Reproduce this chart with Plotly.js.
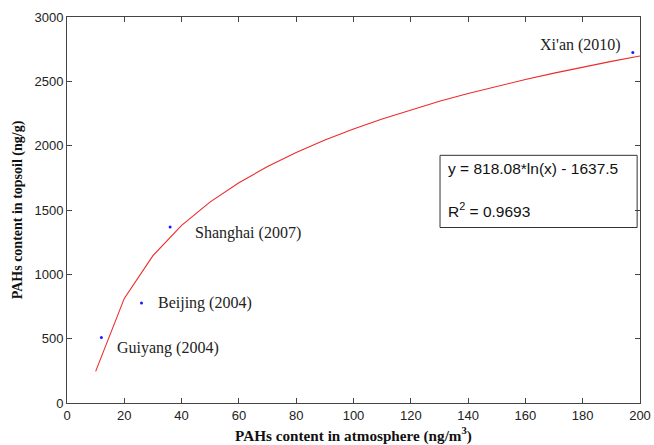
<!DOCTYPE html>
<html>
<head>
<meta charset="utf-8">
<script src="https://cdn.plot.ly/plotly-3.0.1.min.js"></script>
<style>html,body{margin:0;padding:0;background:#fff;}</style>
</head>
<body>
<div id="chart" style="width:654px;height:445px;"></div>
<script>
// Observed city data
const cities = ["Guiyang (2004)", "Beijing (2004)", "Shanghai (2007)", "Xi'an (2010)"];
const atmX = [12, 26, 36, 197.5];
const soilY = [510, 778, 1368, 2725];

// Fitted curve
const fitX = [10, 20, 30, 40, 50, 60, 70, 80, 90, 100, 110, 120, 130, 140, 150, 160, 170, 180, 190, 200];
const fitY = [246, 813, 1145, 1380, 1563, 1712, 1838, 1947, 2044, 2130, 2208, 2279, 2345, 2405, 2462, 2514, 2564, 2611, 2655, 2697];

// Label anchors (where each city's text starts)
const labelX = [16.6, 30.9, 44, 164.5];
const labelY = [430, 775, 1318, 2785];

const eqText = "y = 818.08*ln(x) - 1637.5";
const r2Text = "R<sup>2</sup> = 0.9693";

const tickFont = {family: "Liberation Sans, Arial, sans-serif", size: 13, color: "#222"};
const yTitleFont = {family: "Liberation Serif, Times New Roman, serif", size: 14, color: "#111", weight: "bold"};
const xTitleFont = {family: "Liberation Serif, Times New Roman, serif", size: 15.2, color: "#111", weight: "bold"};

const traces = [
  {x: fitX, y: fitY, mode: "lines", line: {color: "#ee2a2a", width: 1.1}, hoverinfo: "skip"},
  {x: atmX, y: soilY, mode: "markers", marker: {color: "#1a1aff", size: 3}, text: cities}
];

const annotations = cities.map((c, i) => ({
  x: labelX[i], y: labelY[i], xref: "x", yref: "y", text: c, showarrow: false,
  xanchor: "left", yanchor: "middle",
  font: {family: "Liberation Serif, Times New Roman, serif", size: 16, color: "#222"}
}));
annotations.push(
  {x: 132.3, y: 1826, xref: "x", yref: "y", text: eqText, showarrow: false, xanchor: "left", yanchor: "middle",
   font: {family: "Liberation Sans, Arial, sans-serif", size: 15.5, color: "#111"}},
  {x: 132.3, y: 1503, xref: "x", yref: "y", text: r2Text, showarrow: false, xanchor: "left", yanchor: "middle",
   font: {family: "Liberation Sans, Arial, sans-serif", size: 15.5, color: "#111"}}
);

const layout = {
  width: 654, height: 445,
  margin: {l: 67, r: 14, t: 17, b: 42},
  paper_bgcolor: "#fff", plot_bgcolor: "#fff",
  showlegend: false,
  xaxis: {
    range: [0, 200], dtick: 20, tick0: 0, ticks: "inside", ticklen: 5, tickcolor: "#444",
    showline: true, linecolor: "#444", linewidth: 1, mirror: "ticks", showgrid: false, zeroline: false,
    tickfont: tickFont,
    title: {text: "PAHs content in atmosphere (ng/m<sup>3</sup>)", font: xTitleFont, standoff: 8}
  },
  yaxis: {
    range: [0, 3000], dtick: 500, tick0: 0, ticks: "inside", ticklen: 5, tickcolor: "#444",
    showline: true, linecolor: "#444", linewidth: 1, mirror: "ticks", showgrid: false, zeroline: false,
    tickfont: tickFont,
    title: {text: "PAHs content in topsoil (ng/g)", font: yTitleFont, standoff: 8}
  },
  shapes: [
    {type: "rect", xref: "x", yref: "y", x0: 130.2, x1: 199, y0: 1364, y1: 1925,
     line: {color: "#333", width: 1}, fillcolor: "rgba(0,0,0,0)"}
  ],
  annotations: annotations
};

Plotly.newPlot("chart", traces, layout, {displayModeBar: false, staticPlot: true});
</script>
</body>
</html>
